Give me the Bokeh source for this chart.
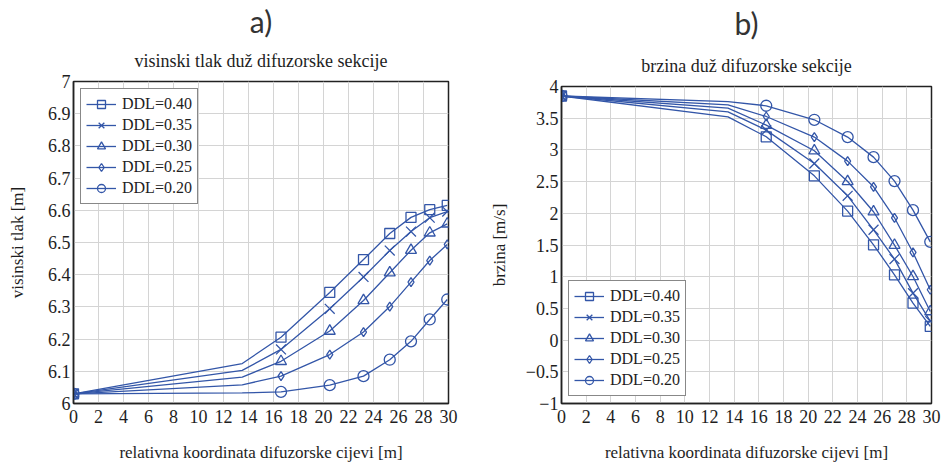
from bokeh.plotting import figure
from bokeh.models import Title, Legend, LegendItem, FixedTicker
from bokeh.layouts import row, column
from bokeh.embed import file_html
from bokeh.resources import INLINE

# ---- data ----
x_pos = [0, 13.5, 16.6, 20.5, 23.2, 25.3, 27.0, 28.5, 29.9]
marked = [0, 2, 3, 4, 5, 6, 7, 8]  # indices that carry a marker

labels = ["DDL=0.40", "DDL=0.35", "DDL=0.30", "DDL=0.25", "DDL=0.20"]
markers = ["square", "x", "triangle", "diamond", "circle"]

p40 = [6.03, 6.124, 6.206, 6.345, 6.447, 6.528, 6.578, 6.602, 6.615]
p35 = [6.03, 6.103, 6.168, 6.294, 6.393, 6.475, 6.534, 6.577, 6.596]
p30 = [6.03, 6.082, 6.131, 6.225, 6.320, 6.406, 6.476, 6.530, 6.558]
p25 = [6.03, 6.058, 6.085, 6.152, 6.222, 6.301, 6.377, 6.444, 6.494]
p20 = [6.03, 6.033, 6.036, 6.057, 6.085, 6.136, 6.193, 6.261, 6.323]

v40 = [3.85, 3.522, 3.207, 2.591, 2.035, 1.503, 1.030, 0.584, 0.215]
v35 = [3.85, 3.601, 3.312, 2.786, 2.276, 1.740, 1.278, 0.741, 0.300]
v30 = [3.85, 3.659, 3.391, 2.986, 2.502, 2.024, 1.498, 1.003, 0.450]
v25 = [3.85, 3.711, 3.527, 3.202, 2.823, 2.418, 1.929, 1.382, 0.794]
v20 = [3.85, 3.763, 3.696, 3.475, 3.202, 2.886, 2.508, 2.050, 1.550]

x_ticks = list(range(0, 31, 2))
p_ticks = [6.0, 6.1, 6.2, 6.3, 6.4, 6.5, 6.6, 6.7, 6.8, 6.9, 7.0]
p_tick_labels = ["6", "6.1", "6.2", "6.3", "6.4", "6.5", "6.6", "6.7", "6.8", "6.9", "7"]
v_ticks = [-1, -0.5, 0, 0.5, 1, 1.5, 2, 2.5, 3, 3.5, 4]
v_tick_labels = ["\u22121", "\u22120.5", "0", "0.5", "1", "1.5", "2", "2.5", "3", "3.5", "4"]

BLUE = "#3356a8"
SERIF = "Liberation Serif"
TXT = "#1e1e1e"
MSIZE = {"square": 10, "x": 14, "triangle": 11, "diamond": 9, "circle": 11}


def make_panel(letter, title, ylabel, series, yr, yticks, ylabels, legend_loc,
               bl, br, bt, ylab_standoff, letter_gap):
    p = figure(width=473, height=466, x_range=(0, 30), y_range=yr,
               output_backend="svg", toolbar_location=None,
               min_border_left=bl, min_border_right=br, min_border_top=bt,
               min_border_bottom=63, background_fill_color="white",
               border_fill_color="white")
    # outer title: panel letter
    p.title.text = letter
    p.title.align = "center"
    p.title.vertical_align = "top"
    p.title.text_font = "Lato"
    p.title.text_font_size = "30px"
    p.title.text_font_style = "normal"
    p.title.text_color = "#333333"
    p.title.standoff = letter_gap
    # inner title: chart title
    p.add_layout(Title(text=title, align="center", vertical_align="top",
                       text_font=SERIF, text_font_size="18px",
                       text_font_style="normal", text_color=TXT, standoff=17),
                 "above")

    p.outline_line_color = "#222222"
    p.outline_line_width = 1.5
    p.grid.grid_line_color = "#d4d4d4"
    p.grid.grid_line_width = 1

    p.xaxis.ticker = FixedTicker(ticks=x_ticks)
    p.yaxis.ticker = FixedTicker(ticks=yticks)
    p.yaxis.major_label_overrides = {t: l for t, l in zip(yticks, ylabels)}
    for ax in (p.xaxis, p.yaxis):
        ax.axis_line_color = "#222222"
        ax.axis_line_width = 1.5
        ax.major_tick_in = 0
        ax.major_tick_out = 0
        ax.minor_tick_line_color = None
        ax.major_label_text_font = SERIF
        ax.major_label_text_font_size = "18px"
        ax.major_label_text_color = TXT
        ax.axis_label_text_font = SERIF
        ax.axis_label_text_font_size = "17px"
        ax.axis_label_text_font_style = "normal"
        ax.axis_label_text_color = TXT
    p.xaxis.axis_label = "relativna koordinata difuzorske cijevi [m]"
    p.yaxis.axis_label = ylabel
    p.xaxis.major_label_standoff = 6
    p.xaxis.axis_label_standoff = 17
    p.yaxis.major_label_standoff = 3
    p.yaxis.axis_label_standoff = ylab_standoff

    items = []
    for ys, lab, mk in zip(series, labels, markers):
        lr = p.line(x_pos, ys, line_color=BLUE, line_width=1.3)
        mx = [x_pos[i] for i in marked]
        my = [ys[i] for i in marked]
        sr = p.scatter(mx, my, marker=mk, size=MSIZE[mk], line_color=BLUE,
                       line_width=1.3, fill_color=None)
        items.append(LegendItem(label=lab, renderers=[lr, sr]))
    leg = Legend(items=items, location=legend_loc, margin=7,
                 glyph_width=30, glyph_height=20, spacing=1, padding=5,
                 label_standoff=6, label_text_font=SERIF,
                 label_text_font_size="16px", label_text_color=TXT,
                 label_height=20, border_line_color="#111111",
                 border_line_width=1.3, background_fill_color="white",
                 background_fill_alpha=1.0)
    p.add_layout(leg)
    return p


p1 = make_panel("a)", "visinski tlak duž difuzorske sekcije", "visinski tlak [m]",
                [p40, p35, p30, p25, p20], (6.0, 7.0), p_ticks, p_tick_labels,
                "top_left", 73, 25, 81, 18, 3)
p2 = make_panel("b)", "brzina duž difuzorske sekcije", "brzina [m/s]",
                [v40, v35, v30, v25, v20], (-1.0, 4.0), v_ticks, v_tick_labels,
                "bottom_left", 88, 15, 86, 14, 9)

layout = row(column(p1), column(p2))
open("out.html", "w").write(file_html(layout, INLINE))
